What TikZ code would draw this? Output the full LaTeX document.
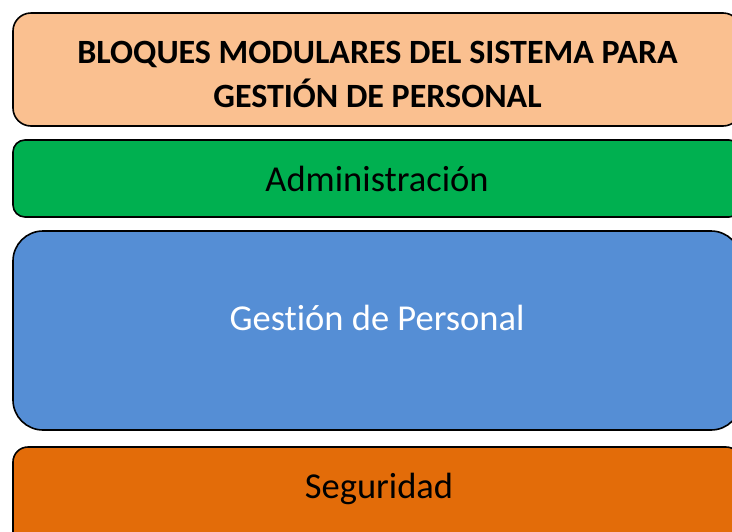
\documentclass[tikz,border=0pt]{standalone}
\usepackage{fontspec}
\setmainfont{Carlito}[Ligatures=NoCommon]

\begin{document}
\begin{tikzpicture}[x=1pt,y=-1pt,
        block/.style={rectangle,draw=black,line width=1.6pt,minimum width=728pt,inner sep=0pt},
        blocktext/.style={font=\fontsize{36.5}{44}\selectfont}]

    \useasboundingbox (0,0) rectangle (732,531);
    \clip (0,0) rectangle (732,531);

    % bloques
    \node[block,fill={rgb,255:red,250;green,192;blue,144},minimum height=113pt,rounded corners=18pt] (titulo) at (377,69.5) {};
    \node[block,fill={rgb,255:red,0;green,176;blue,80},minimum height=77pt,rounded corners=12pt] (admin) at (377,178.5) {};
    \node[block,fill={rgb,255:red,85;green,142;blue,213},minimum height=199pt,rounded corners=30pt] (gestion) at (377,330.5) {};
    \node[block,fill={rgb,255:red,227;green,108;blue,9},minimum height=100pt,rounded corners=15pt] (seguridad) at (377,497) {};

    % textos
    \node[align=center,font=\fontsize{34}{44}\selectfont\bfseries] (titulotxt) at (377.5,74)
        {BLOQUES MODULARES DEL SISTEMA PARA\\GESTIÓN DE PERSONAL};
    \node[blocktext] (admintxt) at (377,179) {Administración};
    \node[blocktext,text=white] (gestiontxt) at (377,318) {Gestión de Personal};
    \node[blocktext] (seguridadtxt) at (379,489) {Seguridad};
    \end{tikzpicture}
\end{document}
